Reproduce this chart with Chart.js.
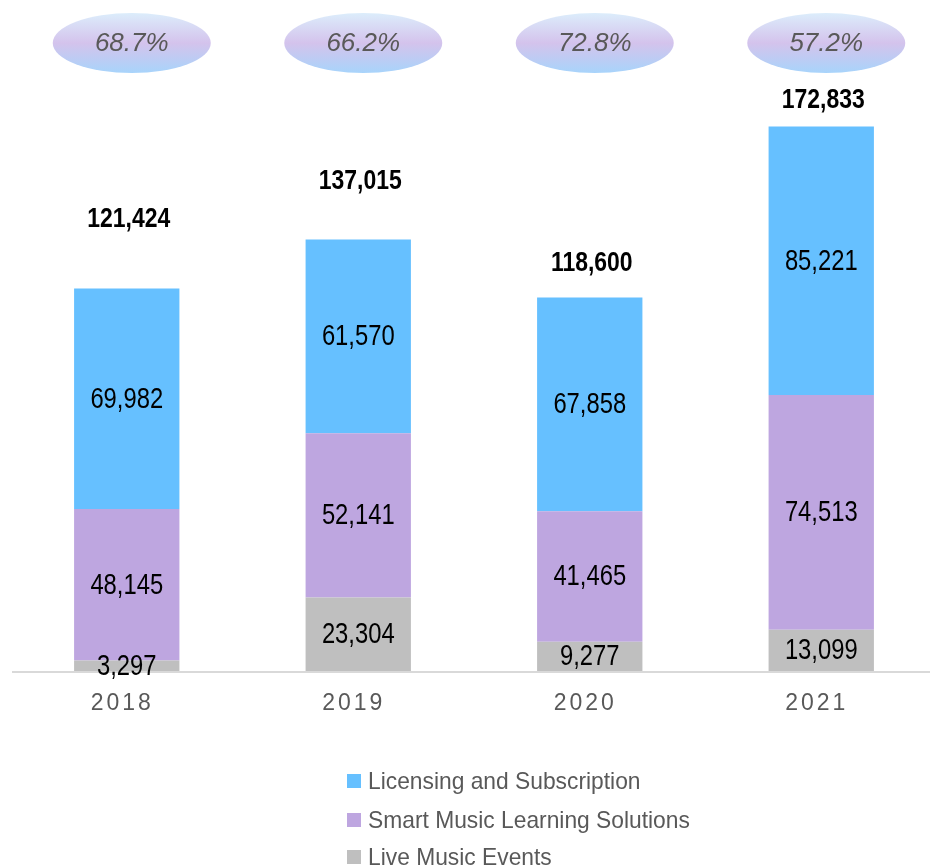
<!DOCTYPE html>
<html>
<head>
<meta charset="utf-8">
<script src="https://cdn.jsdelivr.net/npm/chart.js@4.4.1/dist/chart.umd.min.js"></script>
<style>
  html, body { margin: 0; padding: 0; background: #fff; overflow: hidden; }
  #wrap { width: 940px; height: 868px; }
</style>
</head>
<body>
<div id="wrap"><canvas id="chart" width="940" height="868"></canvas></div>
<script>
// data
const years = ['2018', '2019', '2020', '2021'];
const liveMusic = [3297, 23304, 9277, 13099];
const smartLearning = [48145, 52141, 41465, 74513];
const licensing = [69982, 61570, 67858, 85221];
const totals = [121424, 137015, 118600, 172833];
const shares = ['68.7%', '66.2%', '72.8%', '57.2%'];

// how far the bold totals sit above each bar (px)
const totalLift = [69, 58, 34, 26];

const sans = '"Liberation Sans", Arial, sans-serif';
const fmt = n => n.toLocaleString('en-US');

// no narrow font installed, so squeeze the regular one
function squeezed(ctx, text, x, y, sx) {
  ctx.save();
  ctx.translate(x, y);
  ctx.scale(sx, 1);
  ctx.fillText(text, 0, 0);
  ctx.restore();
}

const overlay = {
  id: 'overlay',
  afterDatasetsDraw(chart) {
    const ctx = chart.ctx;
    const x = chart.scales.x;
    const area = chart.chartArea;

    // axis line
    ctx.save();
    ctx.strokeStyle = '#d9d9d9';
    ctx.lineWidth = 2;
    ctx.beginPath();
    ctx.moveTo(12, area.bottom + 1);
    ctx.lineTo(940, area.bottom + 1);
    ctx.stroke();

    // segment labels
    ctx.fillStyle = '#000';
    ctx.font = '29px ' + sans;
    ctx.textAlign = 'center';
    ctx.textBaseline = 'middle';
    chart.data.datasets.forEach((ds, di) => {
      chart.getDatasetMeta(di).data.forEach((bar, i) => {
        const mid = (bar.y + bar.base) / 2;
        squeezed(ctx, fmt(ds.data[i]), bar.x, mid + 1, 0.82);
      });
    });

    // totals
    const top = chart.getDatasetMeta(2).data;
    ctx.font = 'bold 28px ' + sans;
    top.forEach((bar, i) => {
      squeezed(ctx, fmt(totals[i]), bar.x + 2, bar.y - totalLift[i], 0.82);
    });

    // x tick labels
    ctx.fillStyle = '#595959';
    ctx.font = '23px ' + sans;
    ctx.letterSpacing = '3px';
    years.forEach((y, i) => {
      ctx.fillText(y, x.getPixelForValue(i) - 4.5, area.bottom + 33);
    });
    ctx.letterSpacing = '0px';

    // share ellipses
    shares.forEach((s, i) => {
      const cx = x.getPixelForValue(i) + 5, cy = 43;
      const g = ctx.createLinearGradient(0, cy - 30, 0, cy + 30);
      g.addColorStop(0, '#dcedfb');
      g.addColorStop(0.5, '#d4c3ec');
      g.addColorStop(1, '#a8d4fb');
      ctx.fillStyle = g;
      ctx.beginPath();
      ctx.ellipse(cx, cy, 79, 30, 0, 0, Math.PI * 2);
      ctx.fill();
      ctx.fillStyle = '#595959';
      ctx.font = 'italic 26px ' + sans;
      ctx.fillText(s, cx, cy + 1);
    });

    // legend (top series first)
    ctx.textAlign = 'left';
    ctx.font = '24px ' + sans;
    const rows = [781, 820, 857];
    chart.data.datasets.slice().reverse().forEach((ds, i) => {
      ctx.fillStyle = ds.backgroundColor;
      ctx.fillRect(347, rows[i] - 7, 14, 14);
      ctx.fillStyle = '#595959';
      squeezed(ctx, ds.label, 368, rows[i] + 1, 0.95);
    });
    ctx.restore();
  }
};

new Chart(document.getElementById('chart'), {
  type: 'bar',
  data: {
    labels: years,
    datasets: [
      { label: 'Live Music Events', data: liveMusic, backgroundColor: '#bfbfbf' },
      { label: 'Smart Music Learning Solutions', data: smartLearning, backgroundColor: '#bea6e0' },
      { label: 'Licensing and Subscription', data: licensing, backgroundColor: '#66c0ff' }
    ]
  },
  options: {
    responsive: false,
    animation: false,
    layout: { padding: { top: 41, bottom: 197, left: 11, right: 3 } },
    datasets: { bar: { barPercentage: 0.455, categoryPercentage: 1 } },
    scales: {
      x: { stacked: true, display: false },
      y: { stacked: true, display: false, min: 0, max: 200000 }
    },
    plugins: { legend: { display: false }, tooltip: { enabled: false } }
  },
  plugins: [overlay]
});
</script>
</body>
</html>
